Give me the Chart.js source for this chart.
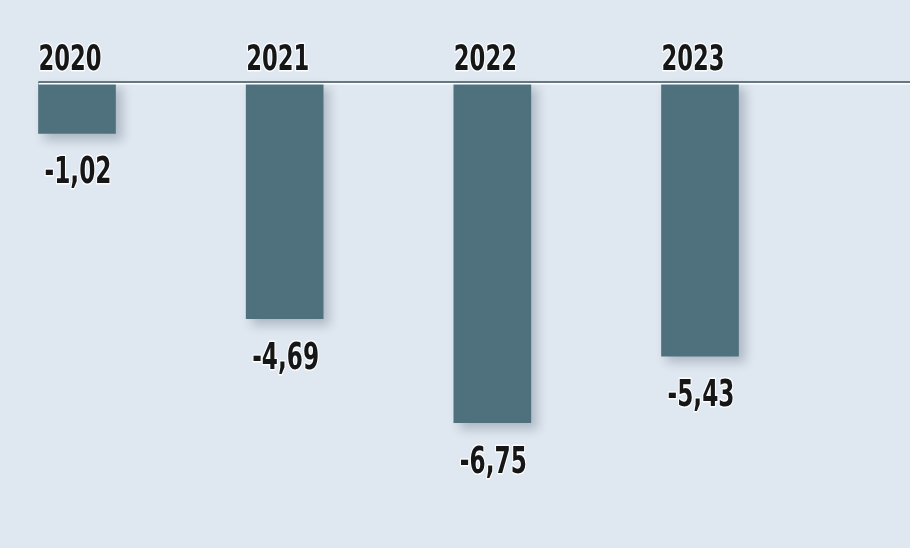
<!DOCTYPE html>
<html>
<head>
<meta charset="utf-8">
<script src="https://cdn.jsdelivr.net/npm/chart.js@4"></script>
<style>
  html, body { margin: 0; padding: 0; background: #dfe7f0; }
  #wrap { width: 910px; height: 548px; }
</style>
</head>
<body>
<div id="wrap"><canvas id="chart"></canvas></div>
<script>
const years = ['2020', '2021', '2022', '2023'];
const values = [-1.02, -4.69, -6.75, -5.43];
const valueLabels = ['-1,02', '-4,69', '-6,75', '-5,43'];

const FONT = '"DejaVu Sans Condensed", "DejaVu Sans", sans-serif';

// schaduw achter de balken
const shadowPlugin = {
  id: 'barShadow',
  beforeDatasetsDraw(chart) {
    const c = chart.ctx;
    c.save();
    c.shadowColor = 'rgba(40, 60, 80, 0.28)';
    c.shadowBlur = 10;
    c.shadowOffsetX = 6;
    c.shadowOffsetY = 6;
  },
  afterDatasetsDraw(chart) {
    chart.ctx.restore();
  }
};

// smalle tekst: horizontaal samengedrukt
function narrowText(c, text, x, y, align, sx) {
  c.save();
  c.translate(x, y);
  c.scale(sx, 1);
  c.textAlign = align;
  c.textBaseline = 'alphabetic';
  c.strokeText(text, 0, 0);
  c.fillText(text, 0, 0);
  c.restore();
}

// nullijn + jaartallen + waarden
const labelPlugin = {
  id: 'labels',
  afterDatasetsDraw(chart) {
    const c = chart.ctx;
    const bars = chart.getDatasetMeta(0).data;
    const zeroY = chart.scales.y.getPixelForValue(0);
    const firstLeft = bars[0].x - bars[0].width / 2;

    c.save();
    c.fillStyle = '#ffffff';
    c.fillRect(firstLeft, zeroY + 1, chart.width - firstLeft, 1.5);
    c.fillStyle = '#66777f';
    c.fillRect(firstLeft, zeroY - 1, chart.width - firstLeft, 2);

    c.lineJoin = 'round';
    c.strokeStyle = 'rgba(255,255,255,0.9)';
    c.lineWidth = 3;
    c.fillStyle = '#161616';

    bars.forEach((bar, i) => {
      const left = bar.x - bar.width / 2;
      c.font = 'bold 35px ' + FONT;
      narrowText(c, years[i], left, zeroY - 12, 'left', 0.72);

      c.font = 'bold 38px ' + FONT;
      narrowText(c, valueLabels[i], bar.x + 1, bar.y + 50, 'center', 0.68);
    });
    c.restore();
  }
};

new Chart(document.getElementById('chart').getContext('2d'), {
  type: 'bar',
  data: {
    labels: years,
    datasets: [{
      data: values,
      backgroundColor: '#4f717e',
      borderWidth: 0,
      barThickness: 77,
      clip: false
    }]
  },
  options: {
    responsive: true,
    maintainAspectRatio: false,
    animation: false,
    layout: { padding: { top: 82, bottom: 37, left: 77, right: 210 } },
    scales: {
      x: { display: false, offset: false },
      y: { display: false, min: -8.5, max: 0 }
    },
    plugins: {
      legend: { display: false },
      tooltip: { enabled: false }
    }
  },
  plugins: [shadowPlugin, labelPlugin]
});
</script>
</body>
</html>
